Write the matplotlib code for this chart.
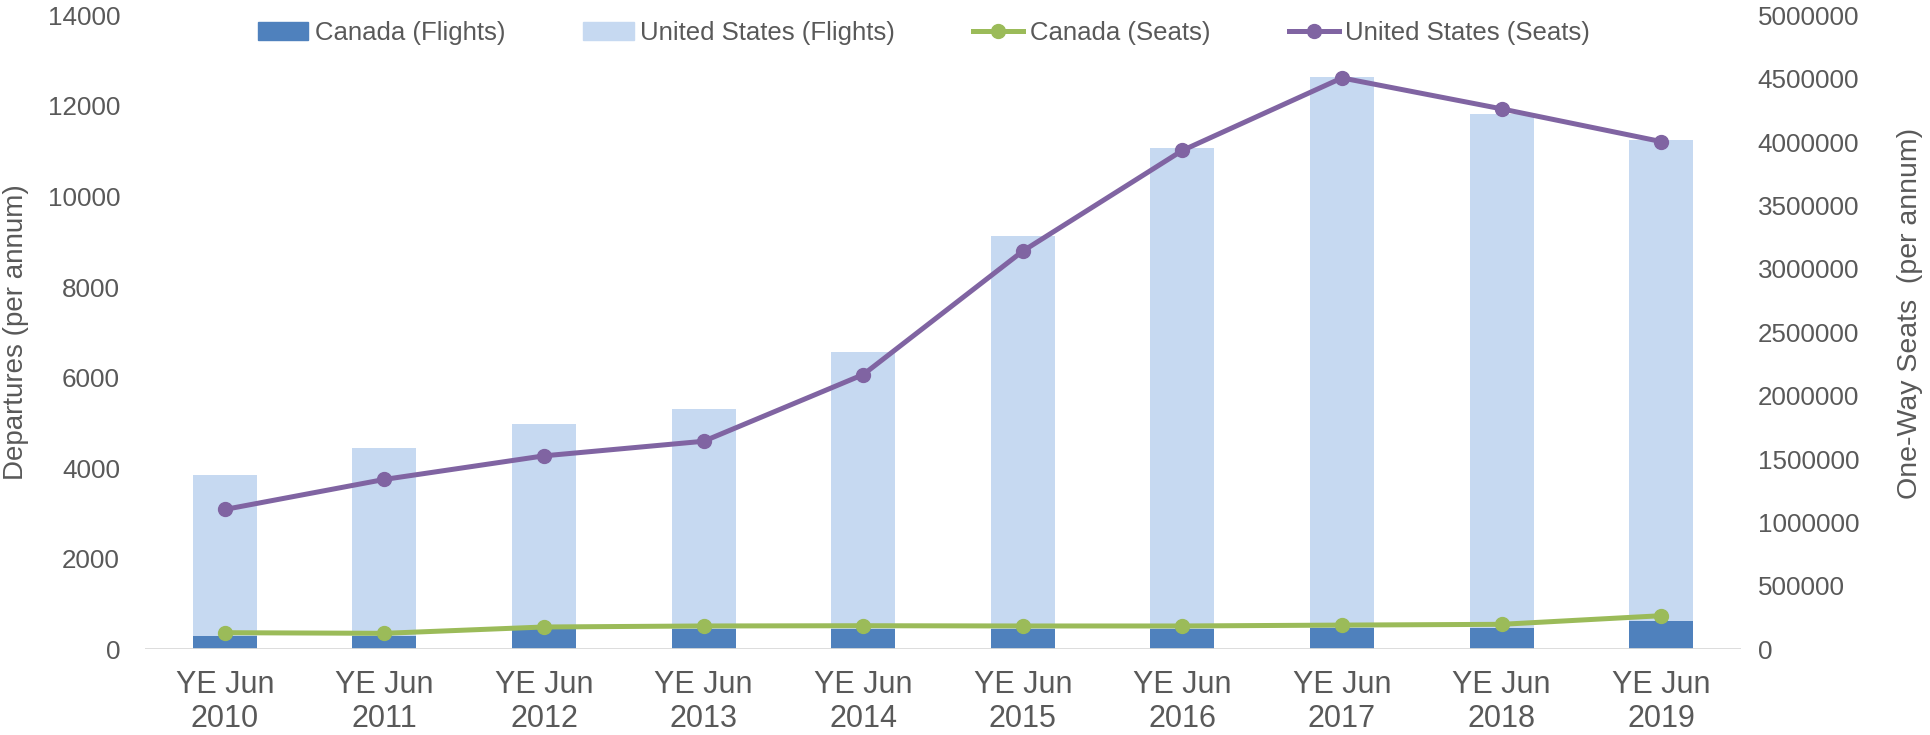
import matplotlib
matplotlib.use("Agg")
import matplotlib.pyplot as plt
from matplotlib.lines import Line2D
from matplotlib.patches import Patch
import numpy as np

plt.rcParams["font.family"] = ["Liberation Sans", "DejaVu Sans"]

years = ["2010", "2011", "2012", "2013", "2014", "2015", "2016", "2017", "2018", "2019"]
labels = [f"YE Jun\n{y}" for y in years]

# departures per annum (stacked: Canada at the bottom)
canada_flights = [295, 300, 440, 450, 455, 450, 455, 460, 460, 620]
us_flights = [3555, 4140, 4540, 4850, 6120, 8670, 10620, 12185, 11365, 10625]

# one-way seats per annum
canada_seats = [131000, 126000, 176000, 184000, 186000, 184000, 184000, 191000, 197000, 265000]
us_seats = [1103000, 1340000, 1526000, 1641000, 2167000, 3141000, 3935000, 4507000, 4263000, 4005000]

C_DARK = "#4F81BD"
C_LIGHT = "#C6D9F1"
C_GREEN = "#9BBB59"
C_PURPLE = "#8064A2"
TXT = "#595959"

fig = plt.figure(figsize=(19.31, 7.35), dpi=100)
ax = fig.add_axes([0.0751, 0.1166, 0.8265, 0.8624])
ax2 = ax.twinx()

x = np.arange(len(years))
w = 0.4
ax.bar(x, canada_flights, w, color=C_DARK, zorder=2)
ax.bar(x, us_flights, w, bottom=canada_flights, color=C_LIGHT, zorder=2)

ax2.plot(x, canada_seats, color=C_GREEN, lw=3.6, marker="o", ms=10, zorder=3)
ax2.plot(x, us_seats, color=C_PURPLE, lw=3.6, marker="o", ms=10, zorder=3)

ax.set_xlim(-0.5, len(years) - 0.5)
ax.set_ylim(0, 14000)
ax.set_yticks(range(0, 14001, 2000))
ax2.set_ylim(0, 5000000)
ax2.set_yticks(range(0, 5000001, 500000))
ax2.set_yticklabels([str(v) for v in range(0, 5000001, 500000)])
ax.set_xticks(x)
ax.set_xticklabels(labels, color=TXT, linespacing=1.15)

for a in (ax, ax2):
    for s in ("top", "left", "right", "bottom"):
        a.spines[s].set_visible(False)
    a.tick_params(length=0, colors=TXT, labelsize=18.7)
ax.tick_params(axis="x", pad=15, labelsize=22)
ax.tick_params(axis="y", pad=18)
ax2.tick_params(axis="y", pad=12)
ax.axhline(0, color="#D9D9D9", lw=2, zorder=4)

ax.set_ylabel("Departures (per annum)", fontsize=20, color=TXT)
ax2.set_ylabel("One-Way Seats  (per annum)", fontsize=20.5, color=TXT)
ax.yaxis.set_label_coords(-0.073, 0.5)
ax2.yaxis.set_label_coords(1.098, 0.53)

handles = [
    Patch(color=C_DARK, label="Canada (Flights)"),
    Patch(color=C_LIGHT, label="United States (Flights)"),
    Line2D([], [], color=C_GREEN, lw=3.6, marker="o", ms=10, label="Canada (Seats)"),
    Line2D([], [], color=C_PURPLE, lw=3.6, marker="o", ms=10, label="United States (Seats)"),
]
fig.legend(handles=handles, loc="center", bbox_to_anchor=(0.4785, 0.955), ncol=4,
           frameon=False, fontsize=18.5, labelcolor=TXT, handlelength=1.95,
           handleheight=0.7, handletextpad=0.25, columnspacing=3.05)

fig.savefig("out.png", dpi=100)
